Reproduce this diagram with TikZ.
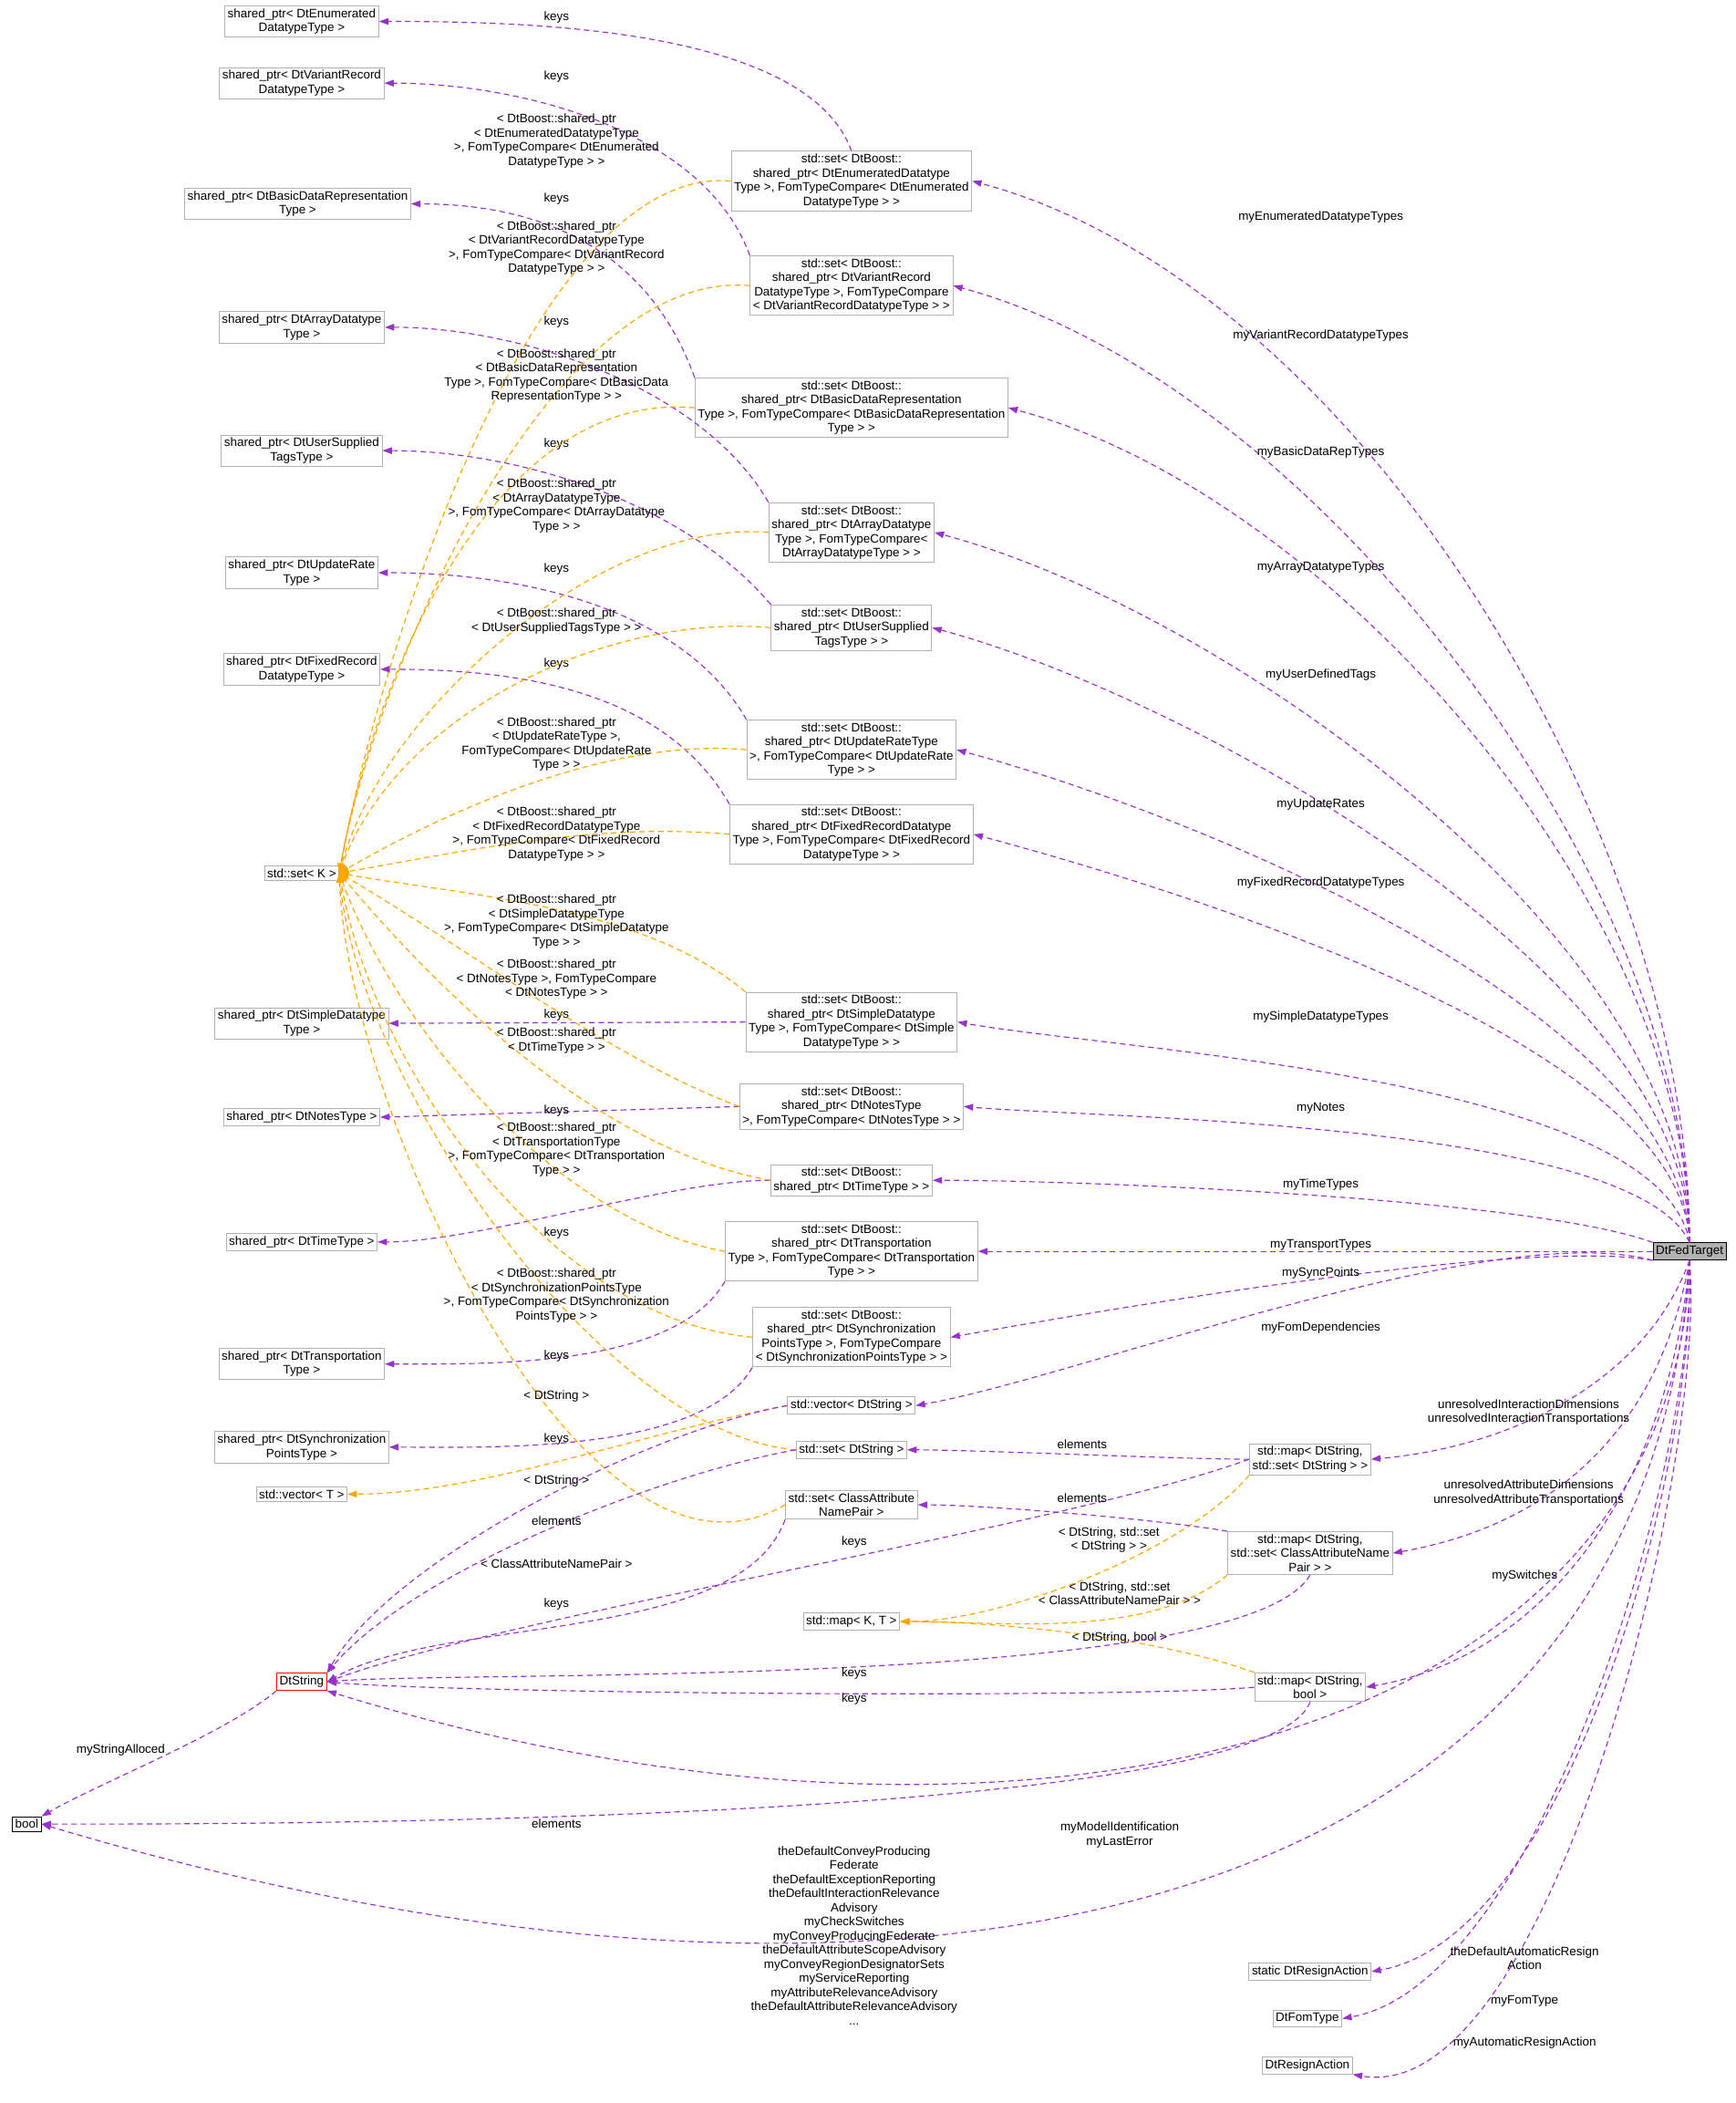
\documentclass[tikz,border=0pt]{standalone}
\usepackage{fontspec}
\setmainfont{Liberation Sans}
\usetikzlibrary{arrows.meta}
\definecolor{pviolet}{RGB}{153,50,204}
\definecolor{porange}{RGB}{255,165,0}
\tikzset{
  box/.style={draw=gray!60, line width=0.35pt, inner sep=1.2pt, align=center, font=\fontsize{5.2}{6}\selectfont},
  lbl/.style={inner sep=0pt, align=center, font=\fontsize{5.2}{6}\selectfont},
  pedge/.style={draw=pviolet, line width=0.45pt, dash pattern=on 2.4pt off 1.6pt, -{Triangle[length=4pt,width=2.8pt]}},
  oedge/.style={draw=porange, line width=0.45pt, dash pattern=on 2.4pt off 1.6pt, -{Triangle[length=4pt,width=2.8pt]}},
}
\begin{document}
\begin{tikzpicture}[x=0.02cm,y=-0.02cm]
\useasboundingbox (0,0) rectangle (1294,1568);
%% left column
\node[box] (spEnum) at (225,16) {shared\_ptr< DtEnumerated\\DatatypeType >};
\node[box] (spVar) at (225,62) {shared\_ptr< DtVariantRecord\\DatatypeType >};
\node[box] (spBasic) at (222,152) {shared\_ptr< DtBasicDataRepresentation\\Type >};
\node[box] (spArr) at (225,244) {shared\_ptr< DtArrayDatatype\\Type >};
\node[box] (spUser) at (225,336) {shared\_ptr< DtUserSupplied\\TagsType >};
\node[box] (spUpd) at (225,427) {shared\_ptr< DtUpdateRate\\Type >};
\node[box] (spFix) at (225,499) {shared\_ptr< DtFixedRecord\\DatatypeType >};
\node[box] (setK) at (225,651) {std::set< K >};
\node[box] (spSimple) at (225,763) {shared\_ptr< DtSimpleDatatype\\Type >};
\node[box] (spNotes) at (225,833) {shared\_ptr< DtNotesType >};
\node[box] (spTime) at (225,926) {shared\_ptr< DtTimeType >};
\node[box] (spTrans) at (225,1017) {shared\_ptr< DtTransportation\\Type >};
\node[box] (spSync) at (225,1079) {shared\_ptr< DtSynchronization\\PointsType >};
\node[box] (vecT) at (225,1114) {std::vector< T >};
\node[box, draw=red] (dtString) at (225,1254) {DtString};
\node[box, draw=black] (bool) at (20,1360) {bool};
%% middle column
\node[box] (setEnum) at (635,135) {std::set< DtBoost::\\shared\_ptr< DtEnumeratedDatatype\\Type >, FomTypeCompare< DtEnumerated\\DatatypeType > >};
\node[box] (setVar) at (635,213) {std::set< DtBoost::\\shared\_ptr< DtVariantRecord\\DatatypeType >, FomTypeCompare\\< DtVariantRecordDatatypeType > >};
\node[box] (setBasic) at (635,304) {std::set< DtBoost::\\shared\_ptr< DtBasicDataRepresentation\\Type >, FomTypeCompare< DtBasicDataRepresentation\\Type > >};
\node[box] (setArr) at (635,397) {std::set< DtBoost::\\shared\_ptr< DtArrayDatatype\\Type >, FomTypeCompare<\\DtArrayDatatypeType > >};
\node[box] (setUser) at (635,468) {std::set< DtBoost::\\shared\_ptr< DtUserSupplied\\TagsType > >};
\node[box] (setUpd) at (635,559) {std::set< DtBoost::\\shared\_ptr< DtUpdateRateType\\ >, FomTypeCompare< DtUpdateRate\\Type > >};
\node[box] (setFix) at (635,622) {std::set< DtBoost::\\shared\_ptr< DtFixedRecordDatatype\\Type >, FomTypeCompare< DtFixedRecord\\DatatypeType > >};
\node[box] (setSimple) at (635,762) {std::set< DtBoost::\\shared\_ptr< DtSimpleDatatype\\Type >, FomTypeCompare< DtSimple\\DatatypeType > >};
\node[box] (setNotes) at (635,825) {std::set< DtBoost::\\shared\_ptr< DtNotesType\\ >, FomTypeCompare< DtNotesType > >};
\node[box] (setTime) at (635,880) {std::set< DtBoost::\\shared\_ptr< DtTimeType > >};
\node[box] (setTrans) at (635,933) {std::set< DtBoost::\\shared\_ptr< DtTransportation\\Type >, FomTypeCompare< DtTransportation\\Type > >};
\node[box] (setSync) at (635,997) {std::set< DtBoost::\\shared\_ptr< DtSynchronization\\PointsType >, FomTypeCompare\\< DtSynchronizationPointsType > >};
\node[box] (vecStr) at (635,1048) {std::vector< DtString >};
\node[box] (setStr) at (635,1081) {std::set< DtString >};
\node[box] (setCA) at (635,1122) {std::set< ClassAttribute\\NamePair >};
\node[box] (mapKT) at (635,1209) {std::map< K, T >};
\node[box] (mapSS) at (977,1088) {std::map< DtString,\\std::set< DtString > >};
\node[box] (mapSCA) at (977,1158) {std::map< DtString,\\std::set< ClassAttributeName\\Pair > >};
\node[box] (mapSB) at (977,1258) {std::map< DtString,\\bool >};
\node[box] (sResign) at (977,1470) {static DtResignAction};
\node[box] (fomType) at (975,1505) {DtFomType};
\node[box] (resign) at (975,1540) {DtResignAction};
\node[box, draw=black, fill=gray!60] (target) at (1260,933) {DtFedTarget};
%%
%% target to members
\draw[pedge] (target.north) to[out=90,in=-15,distance=6cm] (setEnum.east);
\draw[pedge] (target.north) to[out=90,in=-15,distance=5.5cm] (setVar.east);
\draw[pedge] (target.north) to[out=90,in=-15,distance=5cm] (setBasic.east);
\draw[pedge] (target.north) to[out=90,in=-15,distance=4.5cm] (setArr.east);
\draw[pedge] (target.north) to[out=90,in=-15,distance=4cm] (setUser.east);
\draw[pedge] (target.north) to[out=92,in=-15,distance=3.5cm] (setUpd.east);
\draw[pedge] (target.north) to[out=92,in=-15,distance=3cm] (setFix.east);
\draw[pedge] (target.north) to[out=100,in=-10,distance=2.5cm] (setSimple.east);
\draw[pedge] (target.north) to[out=115,in=-5,distance=2cm] (setNotes.east);
\draw[pedge] (target.north west) to[out=160,in=0,distance=2cm] (setTime.east);
\draw[pedge] (target.west) -- (setTrans.east);
\draw[pedge] (target.south west) to[out=170,in=10,distance=2cm] (setSync.east);
\draw[pedge] (target.south west) to[out=165,in=10,distance=2.5cm] (vecStr.east);
\draw[pedge] (target.south) to[out=-110,in=5,distance=2cm] (mapSS.east);
\draw[pedge] (target.south) to[out=-100,in=10,distance=2.5cm] (mapSCA.east);
\draw[pedge] (target.south) to[out=-95,in=10,distance=3cm] (mapSB.east);
\draw[pedge] (target.south) .. controls (1250,1300) and (760,1420) .. (dtString.south east);
\draw[pedge] (target.south) .. controls (1230,1420) and (700,1560) .. (bool.east);
\draw[pedge] (target.south) to[out=-88,in=10,distance=3cm] (sResign.east);
\draw[pedge] (target.south) to[out=-88,in=10,distance=3cm] (fomType.east);
\draw[pedge] (target.south) to[out=-85,in=-10,distance=3cm] (resign.south east);
\node[lbl] (lEnum) at (985,162) {myEnumeratedDatatypeTypes};
\node[lbl] (lVar) at (985,250) {myVariantRecordDatatypeTypes};
\node[lbl] (lBasic) at (985,337) {myBasicDataRepTypes};
\node[lbl] (lArr) at (985,423) {myArrayDatatypeTypes};
\node[lbl] (lUser) at (985,503) {myUserDefinedTags};
\node[lbl] (lUpd) at (985,600) {myUpdateRates};
\node[lbl] (lFix) at (985,658) {myFixedRecordDatatypeTypes};
\node[lbl] (lSimple) at (985,758) {mySimpleDatatypeTypes};
\node[lbl] (lNotes) at (985,826) {myNotes};
\node[lbl] (lTime) at (985,883) {myTimeTypes};
\node[lbl] (lTrans) at (985,928) {myTransportTypes};
\node[lbl] (lSync) at (985,949) {mySyncPoints};
\node[lbl] (lFom) at (985,990) {myFomDependencies};
\node[lbl] (lUnInt) at (1140,1053) {unresolvedInteractionDimensions\\unresolvedInteractionTransportations};
\node[lbl] (lUnAttr) at (1140,1113) {unresolvedAttributeDimensions\\unresolvedAttributeTransportations};
\node[lbl] (lSwitch) at (1137,1175) {mySwitches};
\node[lbl] (lModel) at (835,1368) {myModelIdentification\\myLastError};
\node[lbl] (lBool) at (637,1443) {theDefaultConveyProducing\\Federate\\theDefaultExceptionReporting\\theDefaultInteractionRelevance\\Advisory\\myCheckSwitches\\myConveyProducingFederate\\theDefaultAttributeScopeAdvisory\\myConveyRegionDesignatorSets\\myServiceReporting\\myAttributeRelevanceAdvisory\\theDefaultAttributeRelevanceAdvisory\\...};
\node[lbl] (lRes1) at (1137,1460) {theDefaultAutomaticResign\\Action};
\node[lbl] (lFomType) at (1137,1492) {myFomType};
\node[lbl] (lRes2) at (1137,1523) {myAutomaticResignAction};
%%
%% keys to shared pointers
\draw[pedge] (setEnum.north) to[out=110,in=0,distance=2cm] (spEnum.east);
\draw[pedge] (setVar.north west) to[out=110,in=0,distance=2cm] (spVar.east);
\draw[pedge] (setBasic.north west) to[out=110,in=0,distance=2cm] (spBasic.east);
\draw[pedge] (setArr.north west) to[out=120,in=0,distance=2cm] (spArr.east);
\draw[pedge] (setUser.north west) to[out=130,in=0,distance=2cm] (spUser.east);
\draw[pedge] (setUpd.north west) to[out=120,in=0,distance=2cm] (spUpd.east);
\draw[pedge] (setFix.north west) to[out=120,in=0,distance=2cm] (spFix.east);
\draw[pedge] (setSimple.west) -- (spSimple.east);
\draw[pedge] (setNotes.west) -- (spNotes.east);
\draw[pedge] (setTime.west) to[out=180,in=0,distance=1.5cm] (spTime.east);
\draw[pedge] (setTrans.south west) to[out=-120,in=0,distance=1.5cm] (spTrans.east);
\draw[pedge] (setSync.south west) to[out=-120,in=0,distance=1.5cm] (spSync.east);
\foreach \y in {13,57,148,240,331,424,495,757,828,919,1011,1073}
  \node[lbl] at (415,\y) {keys};
%%
%% templates
\draw[oedge] (setEnum.west) to[out=175,in=80,distance=3cm] (setK.east);
\draw[oedge] (setVar.west) to[out=175,in=80,distance=3cm] (setK.east);
\draw[oedge] (setBasic.west) to[out=175,in=80,distance=3cm] (setK.east);
\draw[oedge] (setArr.west) to[out=175,in=75,distance=2.5cm] (setK.east);
\draw[oedge] (setUser.west) to[out=175,in=70,distance=2.5cm] (setK.east);
\draw[oedge] (setUpd.west) to[out=175,in=30,distance=2cm] (setK.east);
\draw[oedge] (setFix.west) to[out=175,in=10,distance=2cm] (setK.east);
\draw[oedge] (setSimple.north west) to[out=140,in=-10,distance=2cm] (setK.east);
\draw[oedge] (setNotes.west) to[out=160,in=-30,distance=2cm] (setK.east);
\draw[oedge] (setTime.west) to[out=170,in=-50,distance=2.5cm] (setK.east);
\draw[oedge] (setTrans.west) to[out=170,in=-70,distance=2.5cm] (setK.east);
\draw[oedge] (setSync.west) to[out=175,in=-80,distance=3cm] (setK.east);
\draw[oedge] (setStr.west) to[out=175,in=-85,distance=3cm] (setK.east);
\draw[oedge] (setCA.west) to[out=-150,in=-88,distance=3.5cm] (setK.east);
\draw[oedge] (vecStr.west) to[out=-170,in=0,distance=2cm] (vecT.east);
\draw[oedge] (mapSS.south west) to[out=-130,in=0,distance=1.5cm] (mapKT.east);
\draw[oedge] (mapSCA.south west) to[out=-140,in=0,distance=1.5cm] (mapKT.east);
\draw[oedge] (mapSB.north west) to[out=160,in=0,distance=1.5cm] (mapKT.east);
\node[lbl] (tEnum) at (415,105) {< DtBoost::shared\_ptr\\< DtEnumeratedDatatypeType\\ >, FomTypeCompare< DtEnumerated\\DatatypeType > >};
\node[lbl] (tVar) at (415,185) {< DtBoost::shared\_ptr\\< DtVariantRecordDatatypeType\\ >, FomTypeCompare< DtVariantRecord\\DatatypeType > >};
\node[lbl] (tBasic) at (415,280) {< DtBoost::shared\_ptr\\< DtBasicDataRepresentation\\Type >, FomTypeCompare< DtBasicData\\RepresentationType > >};
\node[lbl] (tArr) at (415,377) {< DtBoost::shared\_ptr\\< DtArrayDatatypeType\\ >, FomTypeCompare< DtArrayDatatype\\Type > >};
\node[lbl] (tUser) at (415,463) {< DtBoost::shared\_ptr\\< DtUserSuppliedTagsType > >};
\node[lbl] (tUpd) at (415,555) {< DtBoost::shared\_ptr\\< DtUpdateRateType >,\\FomTypeCompare< DtUpdateRate\\Type > >};
\node[lbl] (tFix) at (415,622) {< DtBoost::shared\_ptr\\< DtFixedRecordDatatypeType\\ >, FomTypeCompare< DtFixedRecord\\DatatypeType > >};
\node[lbl] (tSimple) at (415,687) {< DtBoost::shared\_ptr\\< DtSimpleDatatypeType\\ >, FomTypeCompare< DtSimpleDatatype\\Type > >};
\node[lbl] (tNotes) at (415,730) {< DtBoost::shared\_ptr\\< DtNotesType >, FomTypeCompare\\< DtNotesType > >};
\node[lbl] (tTime) at (415,776) {< DtBoost::shared\_ptr\\< DtTimeType > >};
\node[lbl] (tTrans) at (415,857) {< DtBoost::shared\_ptr\\< DtTransportationType\\ >, FomTypeCompare< DtTransportation\\Type > >};
\node[lbl] (tSync) at (415,966) {< DtBoost::shared\_ptr\\< DtSynchronizationPointsType\\ >, FomTypeCompare< DtSynchronization\\PointsType > >};
\node[lbl] (tSetStr) at (415,1041) {< DtString >};
\node[lbl] (tVecStr) at (415,1104) {< DtString >};
\node[lbl] (tSetCA) at (415,1166) {< ClassAttributeNamePair >};
\node[lbl] (tMapSS) at (827,1148) {< DtString, std::set\\< DtString > >};
\node[lbl] (tMapSCA) at (835,1188) {< DtString, std::set\\< ClassAttributeNamePair > >};
\node[lbl] (tMapSB) at (835,1221) {< DtString, bool >};
%%
%% strings, maps and bool
\draw[pedge] (vecStr.west) to[out=-170,in=60,distance=2cm] (dtString.north east);
\draw[pedge] (setStr.west) to[out=-170,in=50,distance=2cm] (dtString.north east);
\draw[pedge] (setCA.south west) to[out=-110,in=30,distance=2cm] (dtString.east);
\draw[pedge] (mapSS.west) to[out=-160,in=20,distance=3cm] (dtString.east);
\draw[pedge] (mapSCA.south) to[out=-120,in=5,distance=2cm] (dtString.east);
\draw[pedge] (mapSB.west) to[out=-175,in=-5,distance=2cm] (dtString.east);
\draw[pedge] (mapSS.west) to[out=180,in=0,distance=1cm] (setStr.east);
\draw[pedge] (mapSCA.north west) to[out=170,in=0,distance=1cm] (setCA.east);
\draw[pedge] (mapSB.south) to[out=-110,in=0,distance=2cm] (bool.east);
\draw[pedge] (dtString.south west) to[out=-140,in=30,distance=1cm] (bool.north east);
\node[lbl] (kVec) at (415,1134) {elements};
\node[lbl] (kSetStr) at (415,1196) {keys};
\node[lbl] (kMapSS) at (637,1150) {keys};
\node[lbl] (kMapSCA) at (637,1248) {keys};
\node[lbl] (kMapSB) at (637,1267) {keys};
\node[lbl] (eMapSS) at (807,1077) {elements};
\node[lbl] (eMapSCA) at (807,1117) {elements};
\node[lbl] (eMapSB) at (415,1360) {elements};
\node[lbl] (lAlloc) at (90,1305) {myStringAlloced};
\end{tikzpicture}
\end{document}
